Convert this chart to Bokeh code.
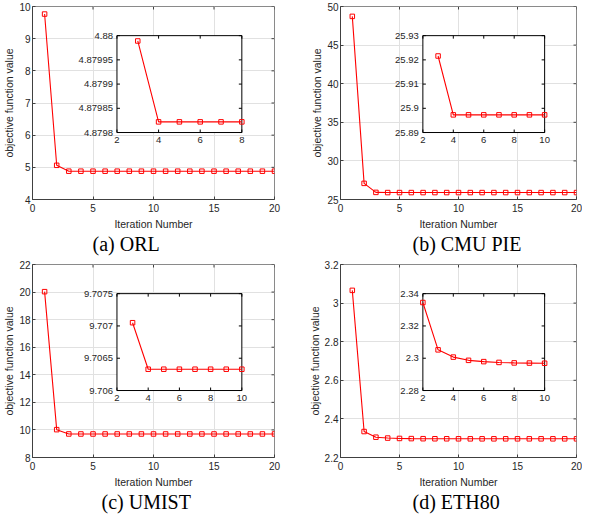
import math
from bokeh.plotting import figure
from bokeh.layouts import column, row
from bokeh.models import Range1d, FixedTicker, NumeralTickFormatter, Title
from bokeh.core.properties import value
from bokeh.embed import file_html
from bokeh.resources import INLINE

# ---------------- data ----------------
ITERATIONS = list(range(1, 21))
X_TICKS = [0, 5, 10, 15, 20]

ORL_VALUES = [9.765, 5.063, 4.879989, 4.879822, 4.879822, 4.879822, 4.879822, 4.879822,
              4.879822, 4.879822, 4.879822, 4.879822, 4.879822, 4.879822, 4.879822,
              4.879822, 4.879822, 4.879822, 4.879822, 4.879822]
CMU_VALUES = [48.72, 27.09, 25.9216, 25.8973, 25.8973, 25.8973, 25.8973, 25.8973,
              25.8973, 25.8973, 25.8973, 25.8973, 25.8973, 25.8973, 25.8973,
              25.8973, 25.8973, 25.8973, 25.8973, 25.8973]
UMIST_VALUES = [20.03, 10.02, 9.70705, 9.70633, 9.70633, 9.70633, 9.70633, 9.70633,
                9.70633, 9.70633, 9.70633, 9.70633, 9.70633, 9.70633, 9.70633,
                9.70633, 9.70633, 9.70633, 9.70633, 9.70633]
ETH_VALUES = [3.066, 2.3345, 2.3052, 2.3007, 2.2987, 2.2979, 2.2974, 2.2971, 2.2970,
              2.2969, 2.2968, 2.2968, 2.2968, 2.2968, 2.2968, 2.2968, 2.2968,
              2.2968, 2.2968, 2.2968]

ORL_YTICKS = [4, 5, 6, 7, 8, 9, 10]
CMU_YTICKS = [25, 30, 35, 40, 45, 50]
UMIST_YTICKS = [8, 10, 12, 14, 16, 18, 20, 22]
ETH_YTICKS = [2.2, 2.4, 2.6, 2.8, 3.0, 3.2]

ORL_INSET_XTICKS = [2, 4, 6, 8]
ORL_INSET_YTICKS = [4.8798, 4.87985, 4.8799, 4.87995, 4.88]
CMU_INSET_XTICKS = [2, 4, 6, 8, 10]
CMU_INSET_YTICKS = [25.89, 25.90, 25.91, 25.92, 25.93]
UMIST_INSET_XTICKS = [2, 4, 6, 8, 10]
UMIST_INSET_YTICKS = [9.706, 9.7065, 9.707, 9.7075]
ETH_INSET_XTICKS = [2, 4, 6, 8, 10]
ETH_INSET_YTICKS = [2.28, 2.30, 2.32, 2.34]

CAPTIONS = ["(a) ORL", "(b) CMU PIE", "(c) UMIST", "(d) ETH80"]
X_LABEL = "Iteration Number"
Y_LABEL = "objective function value"

# ---------------- style ----------------
RED = "#ff0000"
TXT = "#262626"
SANS = "Liberation Sans"
SERIF = "Liberation Serif"
INSET_FX = (0.349, 0.865)
INSET_FY = (0.347, 0.849)


def inset_range(lo, hi, f0, f1):
    span = (hi - lo) / (f1 - f0)
    start = lo - f0 * span
    return Range1d(start, start + span)


def panel(values, yticks, ix_ticks, iy_ticks, inset_first, inset_last,
          caption, cap_offset, width, height, b_left, b_right, b_top, b_bottom, fmt):
    p = figure(width=width, height=height, output_backend="svg", toolbar_location=None,
               title=None, x_range=Range1d(X_TICKS[0], X_TICKS[-1]),
               y_range=Range1d(yticks[0], yticks[-1]),
               min_border_left=b_left, min_border_right=b_right,
               min_border_top=b_top, min_border_bottom=b_bottom)
    p.background_fill_color = "white"
    p.border_fill_color = "white"
    p.outline_line_color = "#8a8a8a"
    p.outline_line_width = 1

    p.xaxis.ticker = FixedTicker(ticks=X_TICKS)
    p.yaxis.ticker = FixedTicker(ticks=yticks)
    p.yaxis.formatter = NumeralTickFormatter(format=fmt)
    for ax in (p.xaxis[0], p.yaxis[0]):
        ax.major_tick_in = 3
        ax.major_tick_out = 0
        ax.minor_tick_line_color = None
        ax.axis_line_color = "#404040"
        ax.major_tick_line_color = "#404040"
        ax.major_label_text_font = SANS
        ax.major_label_text_font_size = "10px"
        ax.major_label_text_color = TXT
        ax.axis_label_text_font = SANS
        ax.axis_label_text_font_size = "10.5px"
        ax.axis_label_text_font_style = "normal"
        ax.axis_label_text_color = TXT
        ax.major_label_standoff = 2
        ax.axis_label_standoff = 1
    p.xaxis.axis_label = X_LABEL
    p.yaxis.axis_label = Y_LABEL
    p.xaxis.major_label_standoff = 4
    p.xaxis.axis_label_standoff = 3

    p.grid.grid_line_color = "#e1e1e1"
    p.grid.grid_line_width = 1
    p.xgrid.ticker = FixedTicker(ticks=X_TICKS)
    p.ygrid.ticker = FixedTicker(ticks=yticks)

    # inward ticks on the top and right edges
    p.ray(x=X_TICKS, y=[yticks[-1]] * len(X_TICKS), length=3, angle=-math.pi / 2,
          length_units="screen", line_color="#404040", line_width=1)
    p.ray(x=[X_TICKS[-1]] * len(yticks), y=yticks, length=3, angle=math.pi,
          length_units="screen", line_color="#404040", line_width=1)

    # main series
    p.line(ITERATIONS, values, line_color=RED, line_width=1.1)
    p.scatter(ITERATIONS, values, marker="square", size=4.5, line_color=RED,
              line_width=1, fill_alpha=0)

    # inset (own ranges mapped onto a sub-box of the frame)
    p.extra_x_ranges = {"ix": inset_range(ix_ticks[0], ix_ticks[-1], *INSET_FX)}
    p.extra_y_ranges = {"iy": inset_range(iy_ticks[0], iy_ticks[-1], *INSET_FY)}
    kw = dict(x_range_name="ix", y_range_name="iy")
    p.quad(left=[ix_ticks[0]], right=[ix_ticks[-1]], bottom=[iy_ticks[0]], top=[iy_ticks[-1]],
           fill_color="white", line_color="#000000", line_width=1, **kw)
    nx, ny = len(ix_ticks), len(iy_ticks)
    p.ray(x=ix_ticks, y=[iy_ticks[0]] * nx, length=3, angle=math.pi / 2,
          length_units="screen", line_color="#000000", **kw)
    p.ray(x=ix_ticks, y=[iy_ticks[-1]] * nx, length=3, angle=-math.pi / 2,
          length_units="screen", line_color="#000000", **kw)
    p.ray(x=[ix_ticks[0]] * ny, y=iy_ticks, length=3, angle=0,
          length_units="screen", line_color="#000000", **kw)
    p.ray(x=[ix_ticks[-1]] * ny, y=iy_ticks, length=3, angle=math.pi,
          length_units="screen", line_color="#000000", **kw)
    p.text(x=[ix_ticks[0]] * ny, y=iy_ticks, text=[format(v, "g") for v in iy_ticks],
           x_offset=-4, text_align="right", text_baseline="middle",
           text_font=value(SANS), text_font_size=value("9.5px"), text_color=TXT, **kw)
    p.text(x=ix_ticks, y=[iy_ticks[0]] * nx, text=[format(v, "g") for v in ix_ticks],
           y_offset=4, text_align="center", text_baseline="top",
           text_font=value(SANS), text_font_size=value("9.5px"), text_color=TXT, **kw)
    xs = ITERATIONS[inset_first - 1:inset_last]
    ys = values[inset_first - 1:inset_last]
    p.line(xs, ys, line_color=RED, line_width=1.1, **kw)
    p.scatter(xs, ys, marker="square", size=4.5, line_color=RED, line_width=1,
              fill_alpha=0, **kw)

    cap = Title(text=caption, align="left", offset=cap_offset, vertical_align="top",
                text_font=SERIF, text_font_size="20px", text_font_style="normal",
                text_color="#000000", standoff=0)
    p.add_layout(cap, "below")
    return p


pa = panel(ORL_VALUES, ORL_YTICKS, ORL_INSET_XTICKS, ORL_INSET_YTICKS, 3, 8,
           CAPTIONS[0], 60, 296, 256, 32, 22, 6, 40, "0.[0]")
pb = panel(CMU_VALUES, CMU_YTICKS, CMU_INSET_XTICKS, CMU_INSET_YTICKS, 3, 10,
           CAPTIONS[1], 72, 286, 256, 44, 6, 6, 40, "0.[0]")
pc = panel(UMIST_VALUES, UMIST_YTICKS, UMIST_INSET_XTICKS, UMIST_INSET_YTICKS, 3, 10,
           CAPTIONS[2], 69, 296, 258, 32, 22, 8, 40, "0.[0]")
pd = panel(ETH_VALUES, ETH_YTICKS, ETH_INSET_XTICKS, ETH_INSET_YTICKS, 2, 10,
           CAPTIONS[3], 72, 286, 258, 44, 6, 8, 40, "0.[0]")

layout = column(row(pa, pb), row(pc, pd))
open("out.html", "w").write(file_html(layout, INLINE))
